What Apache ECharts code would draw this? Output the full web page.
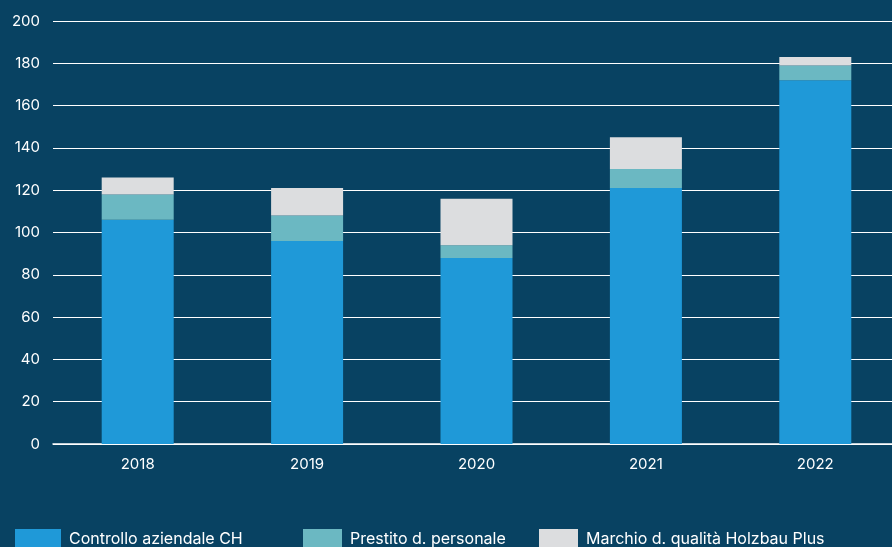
<!DOCTYPE html>
<html>
<head>
<meta charset="utf-8">
<script src="https://cdn.jsdelivr.net/npm/echarts@6/dist/echarts.min.js"></script>
<style>
    html, body { margin: 0; padding: 0; background: #084262; }
    #chart { width: 892px; height: 547px; }
</style>
</head>
<body>
<div id="chart"></div>
<script>
// dati
const years = ["2018", "2019", "2020", "2021", "2022"];
const controllo = [106, 96, 88, 121, 172];
const prestito = [12, 12, 6, 9, 7];
const marchio = [8, 13, 22, 15, 4];
const seriesNames = ["Controllo aziendale CH", "Prestito d. personale", "Marchio d. qualità Holzbau Plus"];
const colors = ["#1f99d8", "#6bb8c2", "#dcdddf"];

const font = "Inter, Lato, sans-serif";

function bar(name, data, color) {
    return {
        name: name,
        type: "bar",
        stack: "tot",
        barWidth: 72,
        itemStyle: { color: color },
        data: data
    };
}

function legendAt(left, name, w) {
    return {
        left: left,
        top: 529,
        padding: 0,
        icon: "rect",
        itemWidth: w,
        itemHeight: 20,
        itemGap: 0,
        textStyle: { color: "#fff", fontSize: 16, fontFamily: font, padding: [0, 0, 0, 3] },
        data: [name]
    };
}

const myChart = echarts.init(document.getElementById("chart"));
myChart.setOption({
    backgroundColor: "#084262",
    animation: false,
    grid: { left: 53, right: -8, top: 21, bottom: 103, outerBoundsMode: "none", containLabel: false },
    legend: [
        legendAt(15, seriesNames[0], 46),
        legendAt(303, seriesNames[1], 39),
        legendAt(539, seriesNames[2], 39)
    ],
    xAxis: {
        type: "category",
        data: years,
        axisLine: { lineStyle: { color: "#fff", width: 1.5 } },
        axisTick: { show: false },
        axisLabel: { color: "#fff", fontSize: 15, fontFamily: font, margin: 13 }
    },
    yAxis: {
        type: "value",
        min: 0,
        max: 200,
        interval: 20,
        axisLine: { show: false },
        axisTick: { show: false },
        splitLine: { lineStyle: { color: "#fff", width: 1 } },
        axisLabel: { color: "#fff", fontSize: 15, fontFamily: font, margin: 13 }
    },
    series: [
        bar(seriesNames[0], controllo, colors[0]),
        bar(seriesNames[1], prestito, colors[1]),
        bar(seriesNames[2], marchio, colors[2])
    ]
});
</script>
</body>
</html>
